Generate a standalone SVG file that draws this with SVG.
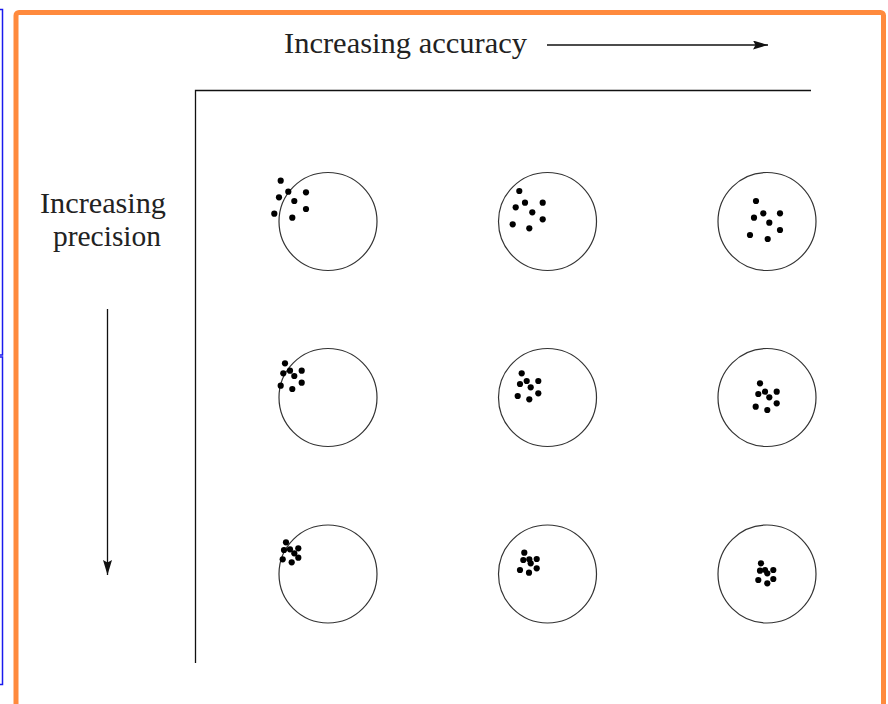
<svg xmlns="http://www.w3.org/2000/svg" width="888" height="704" viewBox="0 0 888 704">
<style>
  .frame-blue { fill: none; stroke: #1a1aee; stroke-width: 1.5; }
  .frame-orange { fill: none; stroke: #ff8a3d; stroke-width: 5; }
  .lbl { font-family: "Liberation Serif", "Times New Roman", serif; font-size: 30px; fill: #222; }
  .axis { stroke: #111; stroke-width: 1.3; fill: none; }
  .arrow { stroke: #111; stroke-width: 1.3; fill: none; marker-end: url(#ah); }
  .target { fill: none; stroke: #333; stroke-width: 1.2; }
  .dot { fill: #000; }
</style>
<defs>
  <marker id="ah" markerUnits="userSpaceOnUse" markerWidth="16" markerHeight="10" refX="15" refY="4.5" orient="auto">
    <path d="M0,0 L15,4.5 L0,9 L2.5,4.5 Z" fill="#111"/>
  </marker>
  <circle id="d" r="3.1" class="dot"/>
</defs>
<rect width="888" height="704" fill="#fff"/>
<g id="frames">
  <rect class="frame-blue" x="-20" y="9.5" width="22.5" height="345.5"/>
  <rect class="frame-blue" x="-20" y="357" width="22.5" height="327.5"/>
  <rect class="frame-orange" x="16" y="12.5" width="867.5" height="730" rx="3"/>
</g>
<g id="labels">
  <text id="label-accuracy" class="lbl" x="284" y="53" textLength="243" lengthAdjust="spacingAndGlyphs">Increasing accuracy</text>
  <text id="label-precision-1" class="lbl" x="40" y="213" textLength="126" lengthAdjust="spacingAndGlyphs">Increasing</text>
  <text id="label-precision-2" class="lbl" x="53" y="246" textLength="108" lengthAdjust="spacingAndGlyphs">precision</text>
</g>
<g id="connectors">
  <line class="arrow" x1="547" y1="45" x2="768" y2="45"/>
  <line class="arrow" x1="107.5" y1="309" x2="107.5" y2="575"/>
  <polyline class="axis" points="811,90.5 195.5,90.5 195.5,663"/>
</g>
<g id="t11">
  <circle class="target" cx="328" cy="221.5" r="49"/>
  <use href="#d" x="280.7" y="180.7"/><use href="#d" x="279" y="197.3"/><use href="#d" x="288.3" y="191.7"/><use href="#d" x="294.3" y="201"/>
  <use href="#d" x="306" y="192.3"/><use href="#d" x="306" y="209"/><use href="#d" x="274.3" y="213.7"/><use href="#d" x="292.3" y="217.7"/>
</g>
<g id="t12">
  <circle class="target" cx="547.5" cy="221.5" r="49"/>
  <use href="#d" x="519.3" y="191"/><use href="#d" x="525" y="202.7"/><use href="#d" x="515.7" y="207.3"/><use href="#d" x="542.7" y="202.7"/>
  <use href="#d" x="532.3" y="212.3"/><use href="#d" x="542.7" y="219.3"/><use href="#d" x="512.7" y="224.3"/><use href="#d" x="529.3" y="228.3"/>
</g>
<g id="t13">
  <circle class="target" cx="767" cy="221.5" r="49"/>
  <use href="#d" x="756" y="201"/><use href="#d" x="763.3" y="213.3"/><use href="#d" x="754" y="217.7"/><use href="#d" x="780" y="213.3"/>
  <use href="#d" x="769.3" y="222.7"/><use href="#d" x="780" y="230"/><use href="#d" x="750" y="235"/><use href="#d" x="767.7" y="239"/>
</g>
<g id="t21">
  <circle class="target" cx="328" cy="397.5" r="49"/>
  <use href="#d" x="285" y="363.3"/><use href="#d" x="283.3" y="373.3"/><use href="#d" x="290" y="370.7"/><use href="#d" x="294.3" y="376"/>
  <use href="#d" x="301.7" y="370.7"/><use href="#d" x="301.7" y="382.7"/><use href="#d" x="280.7" y="385.7"/><use href="#d" x="292.3" y="389"/>
</g>
<g id="t22">
  <circle class="target" cx="547.5" cy="397.5" r="49"/>
  <use href="#d" x="521.7" y="373.3"/><use href="#d" x="520" y="384"/><use href="#d" x="526.7" y="381"/><use href="#d" x="530.7" y="387.3"/>
  <use href="#d" x="538.3" y="381"/><use href="#d" x="538.3" y="393.3"/><use href="#d" x="517.7" y="396"/><use href="#d" x="529.3" y="399.3"/>
</g>
<g id="t23">
  <circle class="target" cx="767" cy="397.5" r="49"/>
  <use href="#d" x="760" y="383.3"/><use href="#d" x="758.3" y="394"/><use href="#d" x="765" y="391.7"/><use href="#d" x="769.3" y="397.3"/>
  <use href="#d" x="776.7" y="391.7"/><use href="#d" x="776.7" y="403.3"/><use href="#d" x="755.7" y="406.7"/><use href="#d" x="767.3" y="410"/>
</g>
<g id="t31">
  <circle class="target" cx="328" cy="574" r="49"/>
  <use href="#d" x="286" y="542.3"/><use href="#d" x="284" y="550"/><use href="#d" x="290" y="549.3"/><use href="#d" x="294.3" y="553.3"/>
  <use href="#d" x="298.3" y="548.3"/><use href="#d" x="298.3" y="557.7"/><use href="#d" x="282.7" y="559.3"/><use href="#d" x="291.7" y="562.3"/>
</g>
<g id="t32">
  <circle class="target" cx="547.5" cy="574" r="49"/>
  <use href="#d" x="524.3" y="552.7"/><use href="#d" x="523.3" y="560"/><use href="#d" x="529.3" y="559.3"/><use href="#d" x="530.7" y="563.3"/>
  <use href="#d" x="536.7" y="559"/><use href="#d" x="536.7" y="568.3"/><use href="#d" x="520" y="570"/><use href="#d" x="529" y="572.7"/>
</g>
<g id="t33">
  <circle class="target" cx="767" cy="574" r="49"/>
  <use href="#d" x="761" y="563.3"/><use href="#d" x="760" y="570.7"/><use href="#d" x="765" y="570"/><use href="#d" x="767.3" y="573.3"/>
  <use href="#d" x="773.3" y="570"/><use href="#d" x="773.3" y="579"/><use href="#d" x="758.3" y="580"/><use href="#d" x="767.3" y="583.3"/>
</g>
</svg>
